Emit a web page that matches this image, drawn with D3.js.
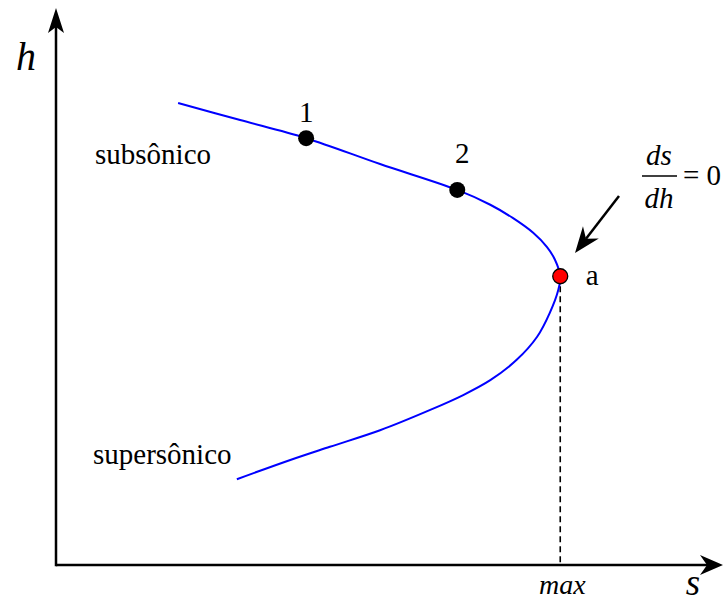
<html><head><meta charset="utf-8"><script src="https://cdn.jsdelivr.net/npm/d3@7/dist/d3.min.js"></script></head>
<body style="margin:0">
<svg id="c" width="723" height="602"></svg>
<script>
// Fanno-type curve: entropy s (horizontal) vs enthalpy h (vertical)
const upperS = [1.85, 2.79, 3.79, 4.91, 6.08, 6.58, 6.92, 7.23, 7.44, 7.56, 7.64];
const upperH = [8.40, 8.09, 7.76, 7.29, 6.82, 6.55, 6.31, 6.04, 5.78, 5.55, 5.25];
const lowerS = [7.64, 7.61, 7.48, 7.29, 6.98, 6.58, 6.17, 5.67, 4.91, 4.15, 3.55, 2.74];
const lowerH = [5.25, 5.00, 4.58, 4.15, 3.73, 3.36, 3.09, 2.82, 2.45, 2.15, 1.91, 1.56];

// Marked states on the curve
const pointNames = ["1", "2", "a"];
const pointS = [3.79, 6.08, 7.64];
const pointH = [7.76, 6.82, 5.25];
const pointFill = ["#000", "#000", "#ff0000"];

// Region and axis labels
const regionLabels = ["subsônico", "supersônico"];
const axisLabels = ["s", "h"];
const maxLabel = "max";

const svg = d3.select("#c");

const x = d3.scaleLinear().domain([0, 10]).range([56, 716]);
const y = d3.scaleLinear().domain([0, 10]).range([565, 15]);

// Axes with arrowheads
const ax = svg.append("g");
ax.append("line")
  .attr("x1", x(0)).attr("y1", y(0)).attr("x2", 712).attr("y2", y(0))
  .attr("stroke", "#000").attr("stroke-width", 2.5);
ax.append("line")
  .attr("x1", x(0)).attr("y1", y(0) + 1.25).attr("x2", x(0)).attr("y2", 18)
  .attr("stroke", "#000").attr("stroke-width", 2.5);
ax.append("path")
  .attr("d", `M723,${y(0)} L700,${y(0) - 10} L707,${y(0)} L700,${y(0) + 10} Z`)
  .attr("fill", "#000");
ax.append("path")
  .attr("d", `M${x(0)},8 L${x(0) - 8},33 L${x(0)},27 L${x(0) + 8},33 Z`)
  .attr("fill", "#000");

// Dashed drop line from point a to the s axis
svg.append("line")
  .attr("x1", x(pointS[2])).attr("y1", y(pointH[2]))
  .attr("x2", x(pointS[2])).attr("y2", y(0))
  .attr("stroke", "#000").attr("stroke-width", 1.6)
  .attr("stroke-dasharray", "6,4");

// Curve
const line = d3.line()
  .x(d => x(d[0])).y(d => y(d[1]))
  .curve(d3.curveCatmullRom.alpha(0.5));
const upper = upperS.map((s, i) => [s, upperH[i]]);
const lower = lowerS.map((s, i) => [s, lowerH[i]]);
svg.append("path")
  .attr("d", line(upper.concat(lower.slice(1))))
  .attr("fill", "none").attr("stroke", "#0000ff").attr("stroke-width", 2);

// State points
svg.selectAll("circle.state")
  .data(pointNames)
  .join("circle")
  .attr("class", "state")
  .attr("cx", (d, i) => x(pointS[i]))
  .attr("cy", (d, i) => y(pointH[i]))
  .attr("r", (d, i) => i === 2 ? 7.5 : 8)
  .attr("fill", (d, i) => pointFill[i])
  .attr("stroke", "#000").attr("stroke-width", (d, i) => i === 2 ? 1.3 : 0);

// All text labels: [x, y, text, size, italic, anchor]
const labelOffsets = [[0, -16], [5, -27], [32, 9]];
const labels = [
  ...pointNames.map((d, i) => [x(pointS[i]) + labelOffsets[i][0], y(pointH[i]) + labelOffsets[i][1], d, 29, false, "middle"]),
  [95, 164, regionLabels[0], 29, false, "start"],
  [93, 464, regionLabels[1], 29, false, "start"],
  [693, 595, axisLabels[0], 37, true, "middle"],
  [26, 70, axisLabels[1], 40, true, "middle"],
  [x(pointS[2]) + 2, 594, maxLabel, 28, true, "middle"],
  [659, 165, "ds", 29, true, "middle"],
  [659, 208, "dh", 29, true, "middle"],
  [683, 185, "= 0", 29, false, "start"]
];
svg.selectAll("text").data(labels).join("text")
  .attr("x", d => d[0]).attr("y", d => d[1])
  .attr("font-size", d => d[3])
  .style("font-family", "'Times New Roman'")
  .style("font-style", d => d[4] ? "italic" : "normal")
  .style("text-anchor", d => d[5])
  .text(d => d[2]);

// ds/dh fraction bar and arrow pointing at a
svg.append("line").attr("x1", 642).attr("x2", 677).attr("y1", 176).attr("y2", 176)
  .attr("stroke", "#000").attr("stroke-width", 1.3);

const ax0 = 619, ay0 = 196, ax1 = 575, ay1 = 253;
const ang = Math.atan2(ay1 - ay0, ax1 - ax0);
const hl = 26, hw = 10, notch = 18;
const bx = ax1 - hl * Math.cos(ang), by = ay1 - hl * Math.sin(ang);
const nx = ax1 - notch * Math.cos(ang), ny = ay1 - notch * Math.sin(ang);
const px = -Math.sin(ang), py = Math.cos(ang);
svg.append("line").attr("x1", ax0).attr("y1", ay0).attr("x2", nx).attr("y2", ny)
  .attr("stroke", "#000").attr("stroke-width", 2.5);
svg.append("path")
  .attr("d", `M${ax1},${ay1} L${bx + px * hw},${by + py * hw} L${nx},${ny} L${bx - px * hw},${by - py * hw} Z`)
  .attr("fill", "#000");
</script></body></html>
